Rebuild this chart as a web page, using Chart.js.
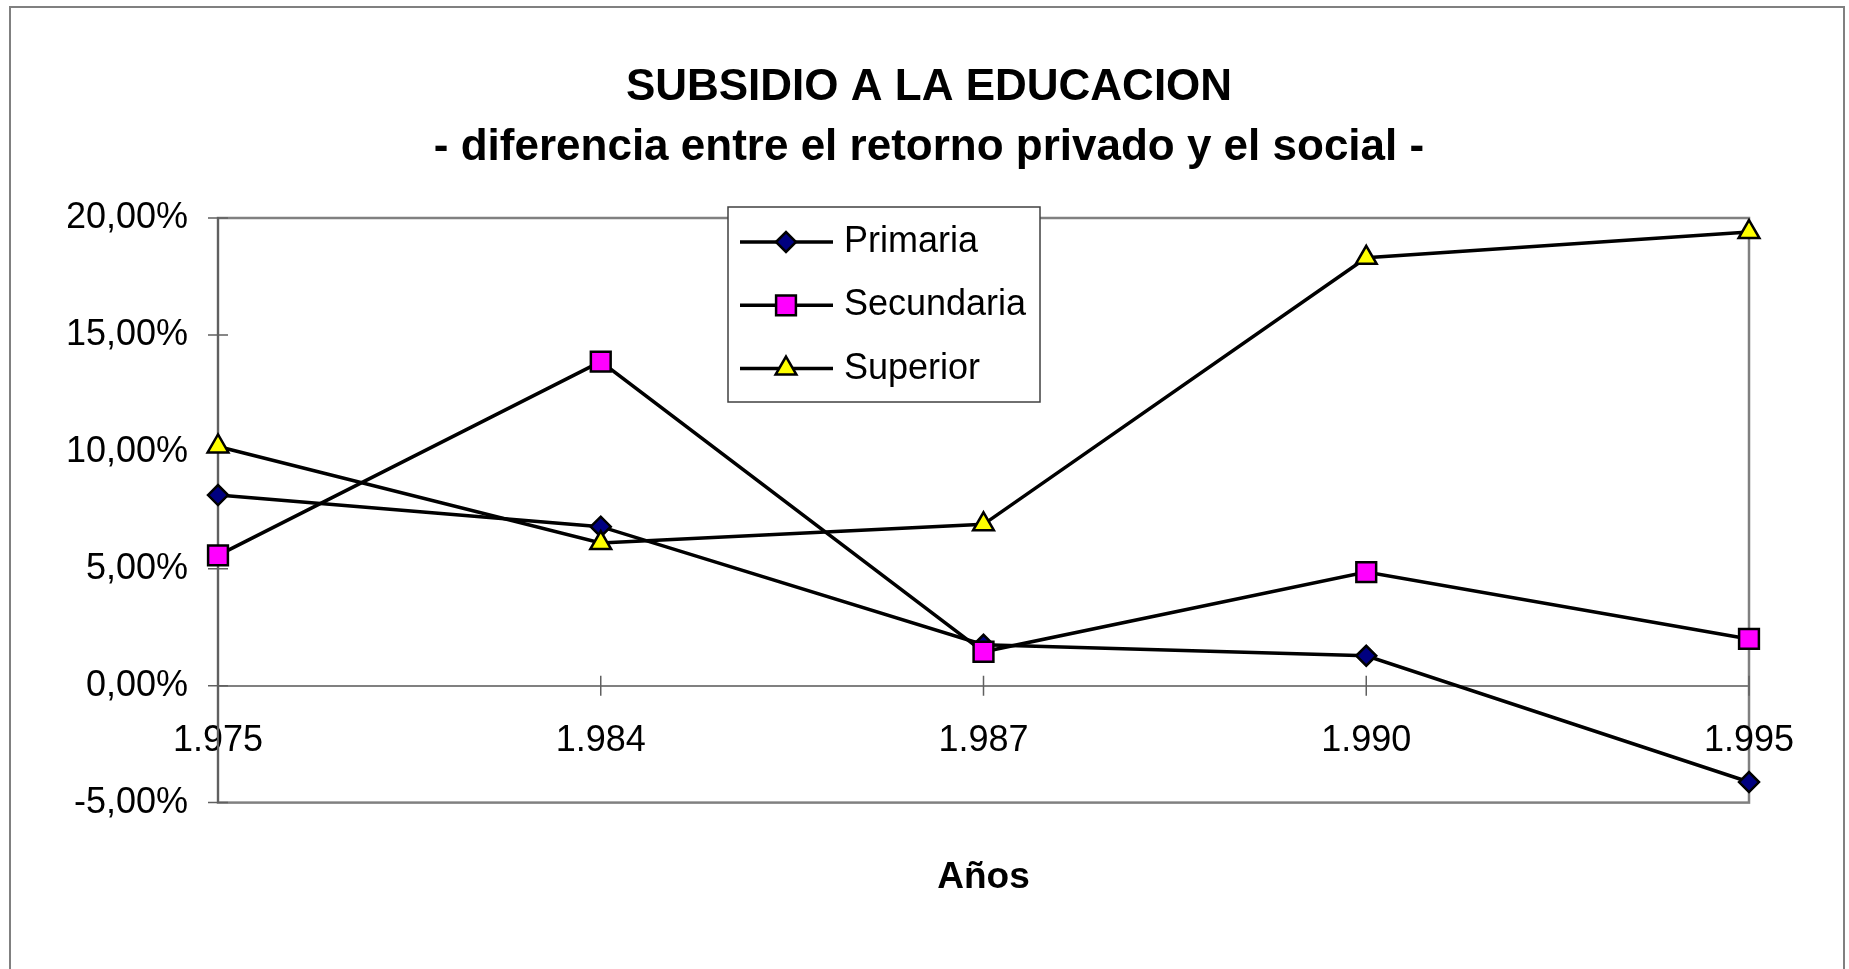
<!DOCTYPE html>
<html>
<head>
<meta charset="utf-8">
<title>Subsidio a la educacion</title>
<script src="https://cdn.jsdelivr.net/npm/chart.js@4.4.1/dist/chart.umd.min.js"></script>
<style>
  html, body { margin: 0; padding: 0; background: #fff; }
</style>
</head>
<body>
<canvas id="chart" width="1849" height="969"></canvas>
<script>
// valores (diferencia en puntos porcentuales)
const years = ['1.975', '1.984', '1.987', '1.990', '1.995'];
const primaria = [8.15, 6.8, 1.75, 1.28, -4.12];
const secundaria = [5.57, 13.86, 1.45, 4.86, 2.00];
const superior = [10.23, 6.1, 6.9, 18.3, 19.40];
const seriesNames = ['Primaria', 'Secundaria', 'Superior'];
const yTicks = [-5, 0, 5, 10, 15, 20];

const FONT = '"Liberation Sans", Arial, Helvetica, sans-serif';

// marco exterior, borde del área de trazado y marcas que cruzan los ejes (estilo Excel)
const framePlugin = {
    id: 'frame',
    afterLayout(chart) {
        // el título del original está un poco corrido a la derecha
        if (chart.titleBlock) chart.titleBlock.left += 41;
    },
    beforeDraw(chart) {
        const ctx = chart.ctx;
        const a = chart.chartArea;
        ctx.save();
        ctx.fillStyle = '#fff';
        ctx.fillRect(0, 0, chart.width, chart.height);
        ctx.strokeStyle = '#808080';
        ctx.lineWidth = 2;
        ctx.strokeRect(10, 7, chart.width - 15, chart.height + 20);
        ctx.lineWidth = 2.5;
        ctx.strokeRect(a.left, a.top, a.right - a.left, a.bottom - a.top);
        ctx.restore();
    },
    beforeDatasetsDraw(chart) {
        const ctx = chart.ctx;
        const x = chart.scales.x;
        const y = chart.scales.y;
        const y0 = y.getPixelForValue(0);
        ctx.save();
        ctx.strokeStyle = '#606060';
        ctx.lineWidth = 1.5;
        ctx.beginPath();
        x.ticks.forEach((t, i) => {
            const px = x.getPixelForTick(i);
            ctx.moveTo(px, y0 - 10);
            ctx.lineTo(px, y0 + 10);
        });
        y.ticks.forEach((t, i) => {
            const py = y.getPixelForTick(i);
            ctx.moveTo(chart.chartArea.left - 10, py);
            ctx.lineTo(chart.chartArea.left + 10, py);
        });
        ctx.stroke();
        ctx.restore();
    }
};

// leyenda dentro del gráfico, en un recuadro
const legendBox = { left: 728, top: 207, width: 312, height: 195 };
const boxLegend = {
    id: 'boxLegend',
    afterDatasetsDraw(chart) {
        const ctx = chart.ctx;
        const b = legendBox;
        ctx.save();
        ctx.fillStyle = '#fff';
        ctx.fillRect(b.left, b.top, b.width, b.height);
        ctx.strokeStyle = '#404040';
        ctx.lineWidth = 1.5;
        ctx.strokeRect(b.left, b.top, b.width, b.height);
        chart.data.datasets.forEach((ds, i) => {
            const cy = b.top + 35 + i * 63.3;
            ctx.strokeStyle = ds.borderColor;
            ctx.lineWidth = ds.borderWidth;
            ctx.beginPath();
            ctx.moveTo(b.left + 12, cy);
            ctx.lineTo(b.left + 105, cy);
            ctx.stroke();
            ctx.fillStyle = ds.pointBackgroundColor;
            ctx.strokeStyle = ds.pointBorderColor;
            ctx.lineWidth = ds.pointBorderWidth;
            Chart.helpers.drawPoint(ctx, {
                pointStyle: ds.pointStyle,
                radius: ds.pointRadius,
                rotation: 0,
                borderWidth: ds.pointBorderWidth
            }, b.left + 58, cy);
            ctx.fillStyle = '#000';
            ctx.font = '36px ' + FONT;
            ctx.textBaseline = 'middle';
            ctx.textAlign = 'left';
            ctx.fillText(ds.label, b.left + 116, cy);
        });
        ctx.restore();
    }
};

const base = {
    borderColor: '#000',
    borderWidth: 3.5,
    pointBorderColor: '#000',
    pointBorderWidth: 2.5,
    tension: 0,
    fill: false
};

const datasets = [
    { label: seriesNames[0], data: primaria, pointStyle: 'rectRot', pointRadius: 10, pointBackgroundColor: '#000080', order: 2 },
    { label: seriesNames[1], data: secundaria, pointStyle: 'rect', pointRadius: 14, pointBackgroundColor: '#ff00ff', order: 1 },
    { label: seriesNames[2], data: superior, pointStyle: 'triangle', pointRadius: 12, pointBackgroundColor: '#ffff00', order: 0 }
].map(d => Object.assign({}, base, d, { pointHoverRadius: d.pointRadius }));

new Chart(document.getElementById('chart'), {
    type: 'line',
    data: { labels: years, datasets: datasets },
    options: {
        responsive: false,
        animation: false,
        layout: { padding: { left: 68, right: 100, top: 0, bottom: 0 } },
        plugins: {
            legend: { display: false },
            tooltip: { enabled: false },
            title: {
                display: true,
                text: ['SUBSIDIO A LA EDUCACION', '- diferencia entre el retorno privado y el social -'],
                color: '#000',
                font: { family: FONT, size: 44, weight: 'bold', lineHeight: 60 / 44 },
                padding: { top: 58, bottom: 40 }
            },
            subtitle: {
                display: true,
                position: 'bottom',
                fullSize: false,
                text: 'Años',
                color: '#000',
                font: { family: FONT, size: 37, weight: 'bold', lineHeight: 1.2 },
                padding: { top: 53, bottom: 69 }
            }
        },
        scales: {
            x: {
                position: { y: 0 },
                offset: false,
                grid: { drawOnChartArea: false, drawTicks: false },
                border: { color: '#808080', width: 2 },
                ticks: {
                    color: '#000',
                    font: { family: FONT, size: 36 },
                    padding: 34,
                    maxRotation: 0,
                    autoSkip: false
                }
            },
            y: {
                min: -5,
                max: 20,
                afterBuildTicks: s => { s.ticks = yTicks.map(v => ({ value: v })); },
                afterFit: s => { s.width = 150; },
                grid: { drawOnChartArea: false, drawTicks: false },
                border: { color: '#606060', width: 2 },
                ticks: {
                    color: '#000',
                    font: { family: FONT, size: 36 },
                    padding: 30,
                    callback: v => v.toFixed(2).replace('.', ',') + '%'
                }
            }
        }
    },
    plugins: [framePlugin, boxLegend]
});
</script>
</body>
</html>
